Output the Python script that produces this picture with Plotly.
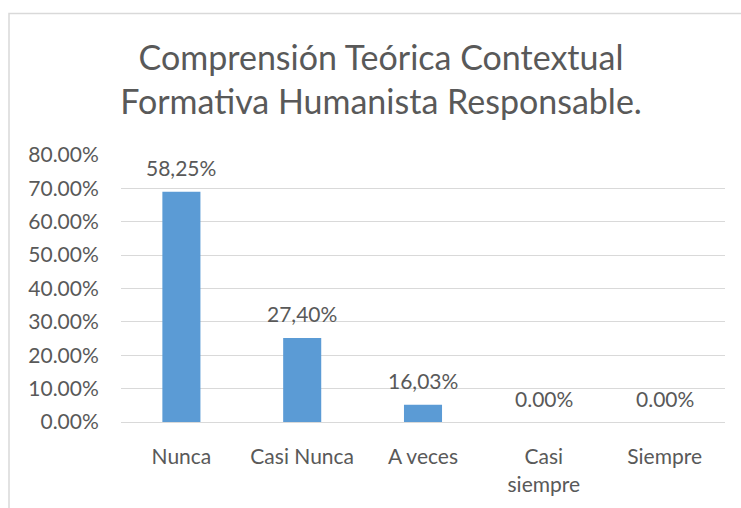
import plotly.graph_objects as go

categories = ["Nunca", "Casi Nunca", "A veces", "Casi<br>siempre", "Siempre"]
values = [0.690, 0.252, 0.052, 0.0, 0.0]
labels = ["58,25%", "27,40%", "16,03%", "0.00%", "0.00%"]
tick_vals = [0, 0.1, 0.2, 0.3, 0.4, 0.5, 0.6, 0.7, 0.8]
tick_text = ["0.00%", "10.00%", "20.00%", "30.00%", "40.00%", "50.00%", "60.00%", "70.00%", "80.00%"]
title_text = "Comprensión Teórica Contextual<br>Formativa Humanista Responsable."

W, H = 741, 508
ML, MR, MT, MB = 121, 16, 155, 83
FONT = "Lato, Open Sans, sans-serif"
TXT = "#595959"
GRID = "#d9d9d9"

fig = go.Figure()
fig.add_trace(go.Bar(x=categories, y=values, marker=dict(color="#5B9BD5", line=dict(width=0)),
                     hoverinfo="skip"))

for c, v, t in zip(categories, values, labels):
    fig.add_annotation(x=c, y=v, text=t, showarrow=False, yanchor="middle", yshift=24,
                       font=dict(family=FONT, size=21, color=TXT))

pw = W - ML - MR
ph = H - MT - MB
fig.add_shape(type="rect", xref="paper", yref="paper",
              x0=(9 - ML) / pw, x1=3, y0=-3, y1=(H - MB - 12) / ph,
              line=dict(color=GRID, width=1.5), fillcolor="rgba(0,0,0,0)", layer="below")

fig.update_layout(
    width=W, height=H,
    margin=dict(l=ML, r=MR, t=MT, b=MB),
    paper_bgcolor="white", plot_bgcolor="white",
    bargap=0.685,
    showlegend=False,
    title=dict(text=title_text, x=381 / W, xanchor="center", xref="container",
               y=1 - 70 / H, yanchor="middle", yref="container",
               font=dict(family=FONT, size=34, color=TXT)),
    xaxis=dict(showgrid=False, zeroline=False, showline=False, ticks="outside", ticklen=16,
               tickcolor="rgba(0,0,0,0)", tickfont=dict(family=FONT, size=21, color=TXT)),
    yaxis=dict(range=[0, 0.8], tickvals=tick_vals, ticktext=tick_text, showgrid=True,
               gridcolor=GRID, gridwidth=1.3, zeroline=True, zerolinecolor=GRID, zerolinewidth=1.3,
               showline=False, ticks="outside", ticklen=17, tickcolor="rgba(0,0,0,0)",
               tickfont=dict(family=FONT, size=21, color=TXT)),
)

fig.write_html("out.html", config={"displayModeBar": False},
               post_script="document.body.style.margin='0';document.body.style.padding='0';")
